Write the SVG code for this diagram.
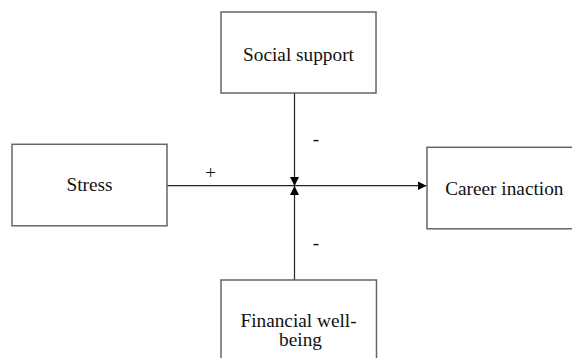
<svg xmlns="http://www.w3.org/2000/svg" width="572" height="358" viewBox="0 0 572 358">
<style>
.box{fill:#fff;stroke:#666;stroke-width:1.5}
.lbl{font-family:"Liberation Serif","Times New Roman",serif;font-size:19.3px;fill:#111;text-anchor:middle}
.edge{stroke:#222;stroke-width:1.2;fill:none}
.sign{font-family:"Liberation Serif","Times New Roman",serif;font-size:19px;fill:#111;text-anchor:middle}
</style>
<defs>
<marker id="arr" markerWidth="10" markerHeight="10" refX="9" refY="4.5" orient="auto" markerUnits="userSpaceOnUse">
<path d="M0,0 L9,4.5 L0,9 Z" fill="#000"/>
</marker>
</defs>
<rect width="572" height="358" fill="#fff"/>
<g id="connectors">
<line class="edge" x1="167" y1="185.7" x2="426.5" y2="185.7" marker-end="url(#arr)"/>
<line class="edge" x1="294.5" y1="93" x2="294.5" y2="186" marker-end="url(#arr)"/>
<line class="edge" x1="294.5" y1="280" x2="294.5" y2="186" marker-end="url(#arr)"/>
<text class="sign" x="210.5" y="178.5">+</text>
<text class="sign" x="316" y="145">-</text>
<text class="sign" x="316" y="248.5">-</text>
</g>
<g id="social-support">
<rect class="box" x="221" y="12" width="155" height="81"/>
<text class="lbl" x="298.5" y="61">Social support</text>
</g>
<g id="stress">
<rect class="box" x="12" y="144.3" width="155" height="81.5"/>
<text class="lbl" x="89.5" y="191">Stress</text>
</g>
<g id="career-inaction">
<rect class="box" x="427" y="147.3" width="160" height="81.5"/>
<text class="lbl" x="504.3" y="195">Career inaction</text>
</g>
<g id="financial-well-being">
<rect class="box" x="221" y="280" width="155.5" height="90"/>
<text class="lbl" x="298.5" y="327.3">Financial well-</text>
<text class="lbl" x="300.5" y="345.5">being</text>
</g>
</svg>
